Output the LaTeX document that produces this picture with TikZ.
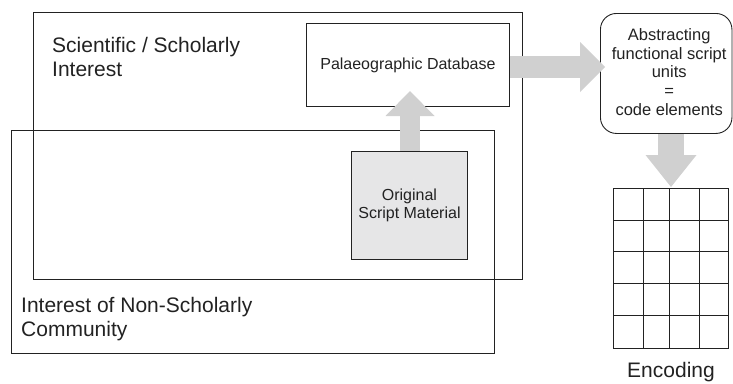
\documentclass[tikz,border=0pt]{standalone}
\usepackage{fontspec}
\setmainfont{Liberation Sans}
\usetikzlibrary{arrows.meta}
\definecolor{linecol}{HTML}{222222}
\definecolor{arrowgray}{HTML}{D0D0D0}
\definecolor{boxgray}{HTML}{E6E6E7}
\tikzset{
  frame/.style={draw=linecol, line width=0.9pt, inner sep=0pt, anchor=north west},
  bigtext/.style={font=\fontsize{21}{24}\selectfont, align=left, inner sep=0pt, text=linecol},
  smalltext/.style={font=\fontsize{16}{18}\selectfont, align=center, inner sep=0pt, text=linecol},
  flow/.style={draw=arrowgray, line cap=butt},
}
\begin{document}
\begin{tikzpicture}[x=1pt, y=-1pt]
\useasboundingbox (0,0) rectangle (733,383);

% interest areas
\node[frame, minimum width=489pt, minimum height=267pt] (sci) at (33,12) {};
\node[frame, minimum width=483pt, minimum height=223pt] (pub) at (11,130) {};
\node[bigtext, anchor=north west] (scilabel) at (52,37) {Scientific / Scholarly\\Interest};
\node[bigtext, anchor=north west] (publabel) at (21,297) {Interest of Non-Scholarly\\Community};

% database and source material
\node[frame, minimum width=203pt, minimum height=83pt] (db) at (306,23) {};
\node[smalltext] at (db.center) {Palaeographic Database};
\node[frame, fill=boxgray, minimum width=116pt, minimum height=108pt] (osm) at (351,151) {};
\node[smalltext] at (osm.center) {Original\\Script Material};

% abstraction step
\node[frame, rounded corners=16pt, minimum width=131.5pt, minimum height=120pt] (abs) at (600,13) {};
\node[smalltext, font=\fontsize{16.5}{18.75}\selectfont] at ([xshift=3pt, yshift=1.5pt]abs.center) {Abstracting\\functional script\\units\\=\\code elements};

% encoding table
\node[frame, minimum width=115pt, minimum height=160pt] (grid) at (613,188) {};
\foreach \cx in {643,669,699} \draw[linecol, line width=0.9pt] (\cx,188) -- (\cx,348);
\foreach \ry in {220,251,283,315} \draw[linecol, line width=0.9pt] (613,\ry) -- (728,\ry);
\node[font=\fontsize{21}{24}\selectfont, text=linecol, inner sep=0pt, anchor=base] (enc) at (671,377) {Encoding};

% flow arrows
\coordinate (uptip) at (410,91);
\draw[flow, line width=20pt, -{Triangle[width=49pt, length=25pt, line width=0pt]}] (osm.north -| uptip) -- (uptip);
\coordinate (righttip) at (605,67);
\draw[flow, line width=22pt, -{Triangle[width=50pt, length=25pt, line width=0pt]}] (db.east |- righttip) -- (righttip);
\coordinate (downtip) at (671,187);
\draw[flow, line width=26pt, -{Triangle[width=51pt, length=32pt, line width=0pt]}] (abs.south -| downtip) -- (downtip);
\end{tikzpicture}
\end{document}
